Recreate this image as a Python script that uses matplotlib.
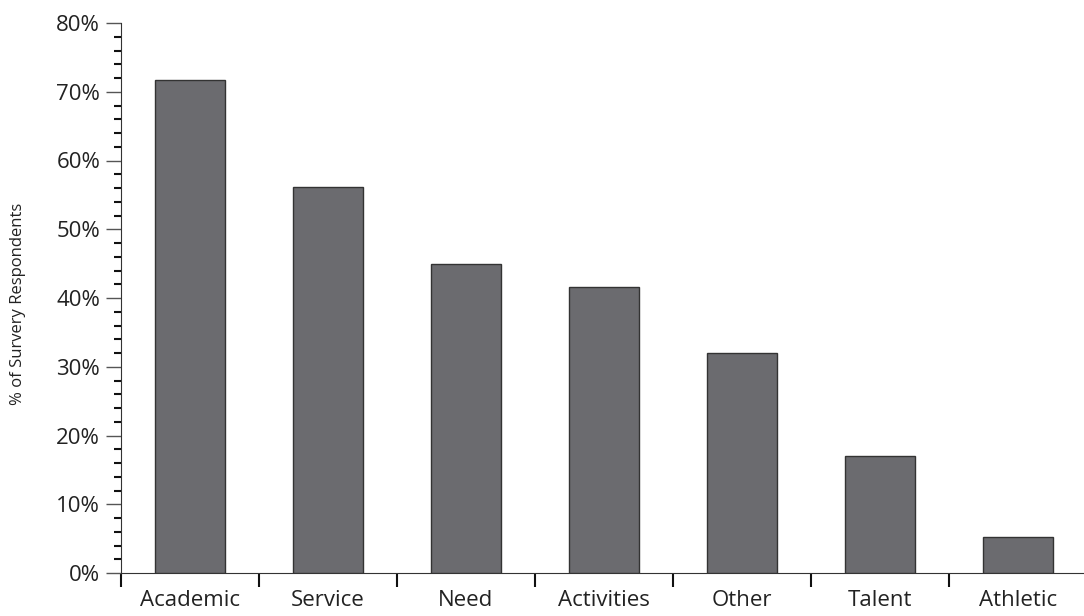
import matplotlib
matplotlib.use("Agg")
import matplotlib.pyplot as plt
from matplotlib.ticker import MultipleLocator, FixedLocator, FuncFormatter

categories = ["Academic", "Service", "Need", "Activities", "Other", "Talent", "Athletic"]
values = [71.7, 56.1, 44.9, 41.6, 32.0, 17.0, 5.2]
y_ticks = [0, 10, 20, 30, 40, 50, 60, 70, 80]

plt.rcParams['font.family'] = ['Open Sans', 'DejaVu Sans']

W, H = 1084, 616
left_px, bottom_px = 121, 43
ax_w_px = W - left_px + 3
fig = plt.figure(figsize=(W / 100, H / 100), dpi=100)
ax = fig.add_axes([left_px / W, bottom_px / H, ax_w_px / W, 550 / H])

x = list(range(len(categories)))
ax.bar(x, values, width=0.51, color="#6b6b6f", edgecolor="#333333", linewidth=1.0, zorder=3)

ax.set_xlim(-0.5, len(categories) - 0.5)
ax.set_ylim(0, 80)

for s in ["top", "right"]:
    ax.spines[s].set_visible(False)
ax.spines["left"].set_color("#333333")
ax.spines["bottom"].set_color("#333333")

ax.yaxis.set_major_locator(FixedLocator(y_ticks))
ax.yaxis.set_minor_locator(MultipleLocator(2))
ax.yaxis.set_major_formatter(FuncFormatter(lambda v, p: f"{int(v)}%"))
ax.tick_params(axis="y", which="major", direction="out", length=11, width=1.0,
               color="#555555", labelsize=16, pad=4, labelcolor="#222222")
ax.tick_params(axis="y", which="minor", direction="out", length=5, width=1.5, color="#111111")

ax.xaxis.set_major_locator(FixedLocator([i - 0.5 for i in range(len(categories))]))
ax.xaxis.set_major_formatter(FuncFormatter(lambda v, p: ""))
ax.xaxis.set_minor_locator(FixedLocator(x))
ax.set_xticklabels(categories, minor=True)
ax.tick_params(axis="x", which="major", direction="out", length=10, width=1.5, color="#111111")
ax.tick_params(axis="x", which="minor", length=0, labelsize=16, pad=12, labelcolor="#222222")

ax.set_ylabel("% of Survery Respondents", fontsize=12, color="#222222")
ax.yaxis.set_label_coords((18 - left_px) / ax_w_px, 0.49)
ax.yaxis.label.set_va("center")

fig.savefig("out.png", dpi=100)
